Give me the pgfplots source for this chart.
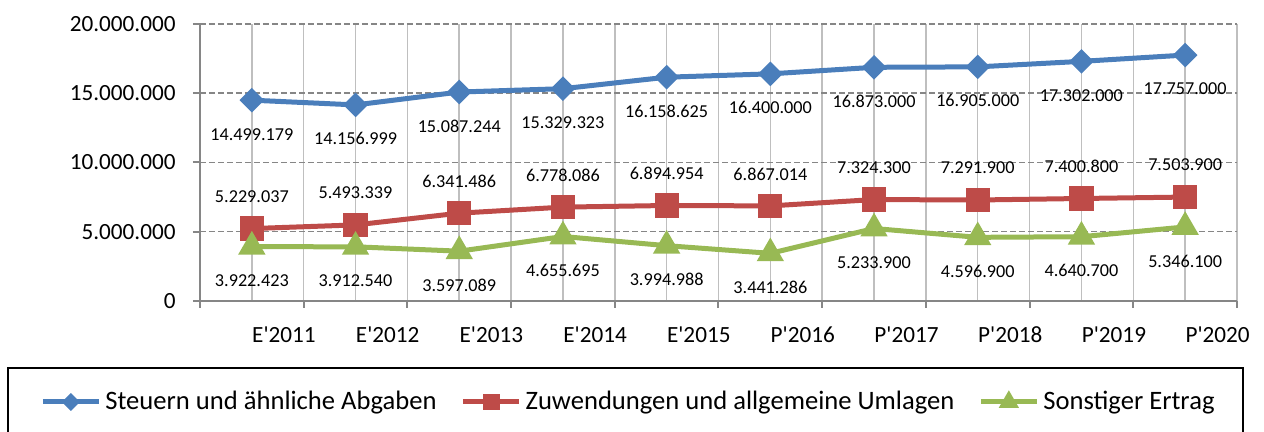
\documentclass[border=0pt]{standalone}
\usepackage{fontspec}
\setmainfont{Carlito}
\usepackage{pgfplots}
\pgfplotsset{compat=1.18}
\usepackage{pgfplotstable}

\definecolor{cblue}{HTML}{4A7EBB}
\definecolor{cred}{HTML}{BE4B48}
\definecolor{cgreen}{HTML}{98B954}
\definecolor{gridgray}{HTML}{BFBFBF}
\definecolor{axgray}{HTML}{868686}

\pgfplotstableread{
x y lab
0 14499179 14.499.179
1 14156999 14.156.999
2 15087244 15.087.244
3 15329323 15.329.323
4 16158625 16.158.625
5 16400000 16.400.000
6 16873000 16.873.000
7 16905000 16.905.000
8 17302000 17.302.000
9 17757000 17.757.000
}\steuern
\pgfplotstableread{
x y lab
0 5229037 5.229.037
1 5493339 5.493.339
2 6341486 6.341.486
3 6778086 6.778.086
4 6894954 6.894.954
5 6867014 6.867.014
6 7324300 7.324.300
7 7291900 7.291.900
8 7400800 7.400.800
9 7503900 7.503.900
}\zuwendungen
\pgfplotstableread{
x y lab
0 3922423 3.922.423
1 3912540 3.912.540
2 3597089 3.597.089
3 4655695 4.655.695
4 3994988 3.994.988
5 3441286 3.441.286
6 5233900 5.233.900
7 4596900 4.596.900
8 4640700 4.640.700
9 5346100 5.346.100
}\sonstiger

\newcommand{\q}{\textquotesingle}

\begin{document}
\begin{tikzpicture}
\begin{axis}[
    scale only axis,
    width=518.5pt, height=138.5pt,
    xmin=-0.5, xmax=9.5,
    ymin=0, ymax=20000000,
    axis lines*=left,
    axis line style={axgray, line width=1pt, -},
    xtick={0,...,9},
    xticklabels={E\q2011,E\q2012,E\q2013,E\q2014,E\q2015,P\q2016,P\q2017,P\q2018,P\q2019,P\q2020},
    minor xtick={-0.5,0.5,...,9.5},
    major x tick style={draw=none},
    minor x tick style={axgray, line width=1pt},
    ytick={0,5000000,10000000,15000000,20000000},
    yticklabels={0,5.000.000,10.000.000,15.000.000,20.000.000},
    y tick style={axgray, line width=1pt},
    scaled y ticks=false,
    tick align=outside,
    major tick length=3.5pt,
    minor tick length=3.5pt,
    xmajorgrids, xminorgrids, ymajorgrids,
    x grid style={gridgray, line width=0.75pt},
    minor x grid style={gridgray, line width=0.75pt},
    y grid style={axgray, line width=0.75pt, dash pattern=on 3pt off 1.5pt},
    xticklabel style={font=\fontsize{11.6}{13}\selectfont, anchor=north west, inner sep=0pt, yshift=-9pt, xshift=0pt},
    yticklabel style={font=\fontsize{11.6}{13}\selectfont, inner sep=0pt, xshift=-8.5pt},
    legend columns=3,
    legend style={draw=none, fill=none, at={(-0.1543,-0.3646)}, anchor=west, inner sep=0pt,
        font=\fontsize{13.3}{15}\selectfont,
        /tikz/every even column/.append style={column sep=10pt}},
    legend cell align=left,
    legend image code/.code={\draw[mark repeat=2,mark phase=2,/tikz/every mark/.append style={scale=0.62}] plot coordinates {(0pt,0pt)(14pt,0pt)(28pt,0pt)};},
    point meta=explicit symbolic,
    nodes near coords,
    nodes near coords style={font=\fontsize{9.1}{11}\selectfont, text=black, anchor=center, inner sep=0pt},
    clip=false,
]
\addplot[cblue, line width=2.5pt, mark=square*, mark size=3.1pt, mark options={rotate=45, solid},
    nodes near coords style={yshift=-17pt}] table[x=x, y=y, meta=lab] {\steuern};
\addlegendentry{Steuern und ähnliche Abgaben}
\addplot[cred, line width=2.5pt, mark=square*, mark size=4.8pt, mark options={solid},
    nodes near coords style={yshift=16pt}] table[x=x, y=y, meta=lab] {\zuwendungen};
\addlegendentry{Zuwendungen und allgemeine Umlagen}
\addplot[cgreen, line width=2.5pt, mark=triangle*, mark size=5.4pt, mark options={solid},
    nodes near coords style={yshift=-17pt}] table[x=x, y=y, meta=lab] {\sonstiger};
\addlegendentry{Sonstiger Ertrag}
\end{axis}
\draw[black, line width=1pt] (-96pt,-65.5pt) -- (-96pt,-33.5pt) -- (521.5pt,-33.5pt) -- (521.5pt,-65.5pt);
\pgfresetboundingbox
\useasboundingbox (-100pt,-65.5pt) rectangle (532pt,150.5pt);
\end{tikzpicture}
\end{document}
